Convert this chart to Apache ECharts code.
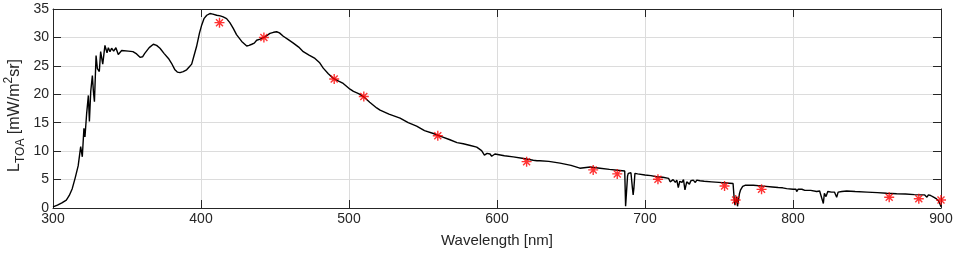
<!DOCTYPE html>
<html lang="en">
<head>
    <meta charset="UTF-8">
    <title>TOA radiance</title>
    <style>
        html, body { margin: 0; padding: 0; background: #ffffff; }
    </style>
</head>
<body>
    <div id="main" style="width: 957px;height:254px;"></div>
    <script src="https://cdn.jsdelivr.net/npm/echarts@6/dist/echarts.min.js"></script>
    <script type="text/javascript">
       // spectrum (nm, mW/m2 sr)
       var wavelength = [300, 303, 306, 309, 311, 313, 315, 317, 318.7, 319.8, 320.9, 321.6, 322.7, 323.9, 324.6, 325.5,
           326.6, 327.3, 328, 329.1, 330, 331.3, 332.2, 333.6, 335.1, 336.5, 337.4, 338.5, 339.6, 341, 342.5, 344.1,
           346.4, 350.9, 354, 356.5, 358.8, 360.5, 362, 365, 367.8, 370, 372.3, 375, 378, 380, 382.4, 384, 385.8, 388,
           390.3, 392, 393.7, 395.5, 397, 399, 400.5, 402, 403.9, 406, 408, 410.6, 413, 415, 417.3, 419.5, 421.8, 424,
           427.5, 430.9, 432.5, 434.3, 436, 437.6, 440, 443.2, 446.6, 449, 451.1, 453, 455.6, 459, 462.4, 466, 469.1,
           473, 477, 480, 482.6, 486, 489.4, 493, 496.1, 500.7, 503, 506.5, 509.7, 514, 518.7, 521, 527, 534.5, 540,
           545.7, 551, 557, 562, 568.2, 573, 577.2, 582, 586.3, 589.6, 591.5, 592.4, 593.3, 594.1, 595.3, 596.4, 597.5,
           598.6, 605, 611, 618, 624.5, 627, 627.9, 629, 635, 642.6, 650, 656, 657.2, 663, 669.6, 676, 683, 686.3,
           686.9, 687.5, 688.2, 688.7, 690.5, 691.5, 692, 692.5, 693.2, 695, 700, 704, 707.9, 712, 716, 717, 718, 719,
           720.5, 721.5, 722.5, 723.5, 725, 726, 727, 728.2, 730, 731, 732.6, 734, 735, 737.2, 740, 745, 750, 755,
           759.5, 760.3, 760.8, 761.5, 762, 762.5, 763, 763.8, 764.6, 766, 767.6, 773.2, 780, 786, 790, 793, 795.7,
           797, 800, 802, 802.5, 803.5, 806, 808, 812, 816, 818, 819, 820.5, 821.2, 822.3, 823.5, 826, 828, 829.5,
           830.5, 833, 836.3, 842, 850, 857, 863.3, 870, 876, 882, 886, 889, 890.5, 891.5, 893, 895, 897, 898.5,
           899.3, 900];
       var radiance = [0.2, 0.5, 0.9, 1.4, 2.2, 3.4, 5.3, 7.4, 10.8, 9.0, 14.0, 12.5, 16.5, 19.8, 15.2, 20.5,
           23.3, 20.5, 18.7, 26.8, 24.5, 24.0, 27.5, 25.3, 28.6, 27.3, 28.2, 27.5, 28.1, 27.6, 28.2, 27.0,
           27.7, 27.6, 27.5, 27.1, 26.5, 26.6, 27.2, 28.2, 28.8, 28.6, 28.1, 27.2, 26.3, 25.5, 24.3, 23.9, 23.8, 24.0,
           24.3, 24.8, 25.3, 27.0, 28.4, 30.8, 32.2, 33.3, 33.9, 34.2, 34.1, 33.9, 33.8, 33.6, 33.3, 32.6, 31.6, 30.5,
           29.3, 28.5, 28.6, 28.8, 29.0, 29.5, 29.7, 30.1, 30.7, 30.9, 31.0, 30.8, 30.2, 29.6, 29.0, 28.3, 27.5,
           26.9, 26.3, 25.6, 24.6, 23.6, 22.8, 22.3, 21.9, 20.9, 20.5, 20.1, 19.6, 18.6, 17.6, 17.2, 16.5, 15.8, 15.0,
           14.4, 13.6, 13.1, 12.6, 12.0, 11.5, 11.3, 11.0, 10.7, 10.1, 9.3, 9.0, 9.6, 9.9, 9.5, 9.1, 9.4,
           9.5, 9.2, 9.0, 8.7, 8.4, 8.3, 8.0, 8.3, 8.2, 7.9, 7.5, 7.0, 7.3, 7.2, 7.0, 6.8, 6.6, 6.5,
           0.3, 0.2, 5.6, 6.1, 6.2, 3.5, 2.3, 3.5, 6.1, 6.0, 5.8, 5.7, 5.5, 5.4, 5.2, 4.6, 4.3, 5.0,
           4.5, 4.9, 3.6, 4.7, 4.5, 5.0, 3.2, 4.6, 4.2, 4.8, 4.9, 4.5, 4.9, 4.8, 4.7, 4.6, 4.5, 4.4,
           4.3, 1.5, 0.5, 0.3, 2.0, 0.3, 0.2, 2.5, 3.2, 3.8, 4.0, 4.0, 3.85, 3.7, 3.6, 3.55, 3.4,
           3.6, 3.3, 3.3, 2.9, 3.3, 3.3, 3.1, 3.1, 2.9, 3.0, 2.1, 0.8, 2.6, 2.0, 2.9, 2.8, 2.8, 1.9,
           2.8, 2.9, 3.0, 2.9, 2.8, 2.7, 2.6, 2.5, 2.45, 2.35, 2.3, 2.3, 1.9, 2.3, 2.2, 1.9, 1.6, 1.2,
           0.7, 0.2];

       // band values (red stars)
       var bandCenters = [412.5, 442.5, 490, 510, 560, 620, 665, 681.25, 708.75, 753.75, 761.25, 778.75, 865, 885, 900];
       var bandValues = [32.6, 30.0, 22.7, 19.6, 12.7, 8.15, 6.7, 6.0, 5.05, 3.87, 1.4, 3.28, 1.88, 1.64, 1.4];

       var xTicks = [300, 400, 500, 600, 700, 800, 900];
       var yTicks = [0, 5, 10, 15, 20, 25, 30, 35];

       var font = 'Liberation Sans';

       var lineData = [];
       for (var i = 0; i < wavelength.length; i++) {
           lineData.push([wavelength[i], radiance[i]]);
       }
       var starData = [];
       for (var j = 0; j < bandCenters.length; j++) {
           starData.push([bandCenters[j], bandValues[j]]);
       }

       // asterisk marker, like matlab '*'
       var star = 'path://M5,0L5,10M0,5L10,5M1.5,1.5L8.5,8.5M1.5,8.5L8.5,1.5';

       var myChart = echarts.init(document.getElementById('main'));
       var gridLine = { show: true, lineStyle: { color: '#dcdcdc', width: 1 } };
       var option = {
           backgroundColor: '#ffffff',
           animation: false,
           grid: { left: 53, right: 16, top: 9, bottom: 46, outerBoundsMode: 'none', containLabel: false },
           xAxis: [{
               type: 'value',
               min: xTicks[0],
               max: xTicks[xTicks.length - 1],
               interval: 100,
               name: 'Wavelength [nm]',
               nameLocation: 'middle',
               nameGap: 25,
               nameMoveOverlap: false,
               nameTextStyle: { fontFamily: font, fontSize: 15, color: '#262626' },
               axisLine: { onZero: false, lineStyle: { color: '#262626', width: 1 } },
               axisTick: { inside: true, length: 8, lineStyle: { color: '#262626' } },
               axisLabel: { fontFamily: font, fontSize: 14, color: '#262626', margin: 4 },
               splitLine: gridLine
           }, {
               type: 'value',
               position: 'top',
               min: xTicks[0],
               max: xTicks[xTicks.length - 1],
               interval: 100,
               axisLine: { onZero: false, lineStyle: { color: '#262626', width: 1 } },
               axisTick: { inside: true, length: 8, lineStyle: { color: '#262626' } },
               axisLabel: { show: false },
               splitLine: { show: false }
           }],
           yAxis: [{
               type: 'value',
               min: yTicks[0],
               max: yTicks[yTicks.length - 1],
               interval: 5,
               name: '{b|L}{s|TOA}{b| [mW/m}{p|2}{b|sr]}',
               nameLocation: 'middle',
               nameGap: 26,
               nameMoveOverlap: false,
               nameTextStyle: {
                   color: '#262626',
                   padding: [0, 14, 0, 0],
                   rich: {
                       b: { fontFamily: font, fontSize: 16, color: '#262626', lineHeight: 24, verticalAlign: 'middle' },
                       s: { fontFamily: font, fontSize: 12, color: '#262626', verticalAlign: 'bottom' },
                       p: { fontFamily: font, fontSize: 12, color: '#262626', verticalAlign: 'top' }
                   }
               },
               axisLine: { onZero: false, lineStyle: { color: '#262626', width: 1 } },
               axisTick: { inside: true, length: 8, lineStyle: { color: '#262626' } },
               axisLabel: { fontFamily: font, fontSize: 14, color: '#262626', margin: 4 },
               splitLine: gridLine
           }, {
               type: 'value',
               position: 'right',
               min: yTicks[0],
               max: yTicks[yTicks.length - 1],
               interval: 5,
               axisLine: { onZero: false, lineStyle: { color: '#262626', width: 1 } },
               axisTick: { inside: true, length: 8, lineStyle: { color: '#262626' } },
               axisLabel: { show: false },
               splitLine: { show: false }
           }],
           series: [{
               type: 'line',
               data: lineData,
               showSymbol: false,
               lineStyle: { color: '#000000', width: 1.4 },
               z: 2
           }, {
               type: 'scatter',
               data: starData,
               symbol: star,
               symbolSize: 10,
               clip: false,
               itemStyle: { color: 'none', borderColor: '#ff0000', borderWidth: 1.4 },
               z: 3
           }]
       };
       myChart.setOption(option);
    </script>
</body>
</html>
